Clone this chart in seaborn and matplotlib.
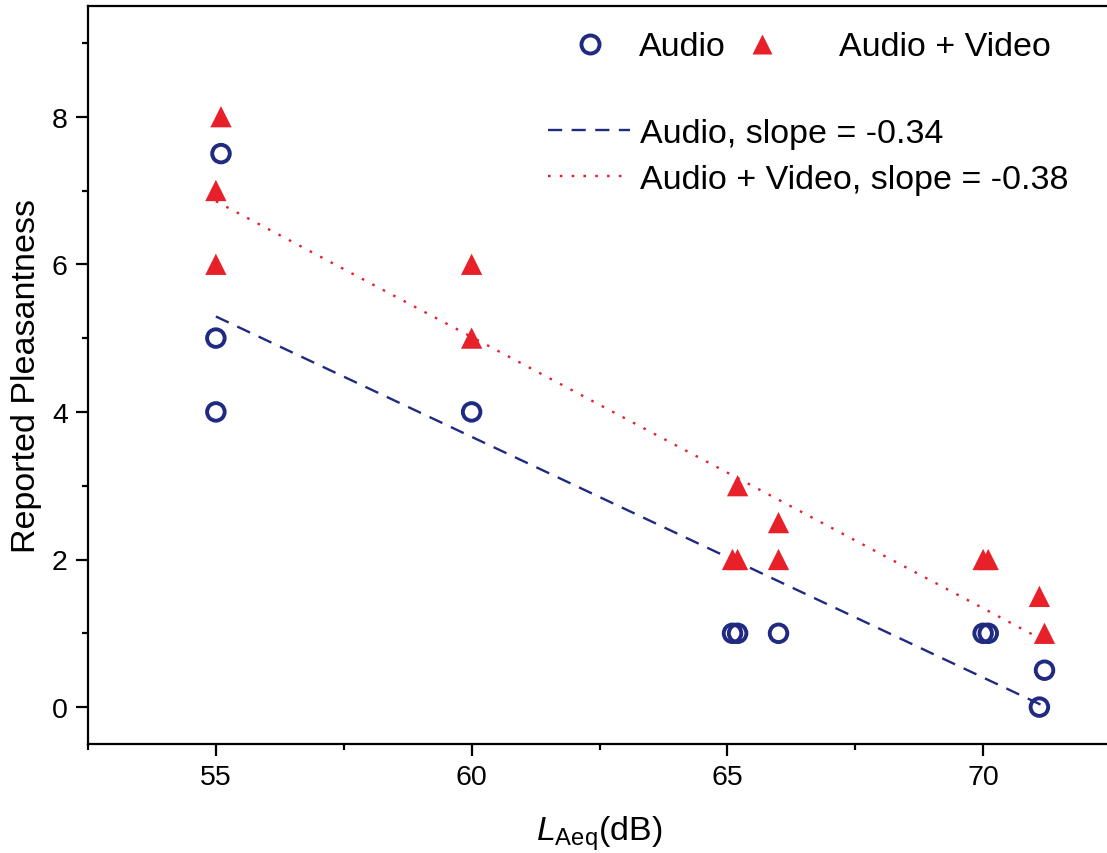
import numpy as np
import pandas as pd
import matplotlib
matplotlib.use("Agg")
import matplotlib.pyplot as plt
from matplotlib.lines import Line2D
from matplotlib.ticker import MultipleLocator
import seaborn as sns

# ---- data ----
audio_x = [55.1, 55.0, 55.0, 60.0, 65.1, 65.2, 66.0, 70.0, 70.1, 71.1, 71.2]
audio_y = [7.5, 5.0, 4.0, 4.0, 1.0, 1.0, 1.0, 1.0, 1.0, 0.0, 0.5]
av_x = [55.1, 55.0, 55.0, 60.0, 60.0, 65.1, 65.2, 65.2, 66.0, 66.0, 70.0, 70.1, 71.1, 71.2]
av_y = [8.0, 7.0, 6.0, 6.0, 5.0, 2.0, 2.0, 3.0, 2.5, 2.0, 2.0, 2.0, 1.5, 1.0]
series_labels = ["Audio", "Audio + Video"]
fit_labels = ["Audio, slope = -0.34", "Audio + Video, slope = -0.38"]
x_ticks = [55, 60, 65, 70]
y_ticks = [0, 2, 4, 6, 8]

navy = "#1f2a80"
red = "#e8202a"

sns.set_style("ticks")
plt.rcParams["font.family"] = ["Liberation Sans", "DejaVu Sans"]
plt.rcParams["mathtext.fontset"] = "custom"
plt.rcParams["mathtext.rm"] = "Liberation Sans"
plt.rcParams["mathtext.it"] = "Liberation Sans:italic"
plt.rcParams["text.color"] = "black"
plt.rcParams["axes.labelcolor"] = "black"

df_a = pd.DataFrame({"x": audio_x, "y": audio_y})
df_v = pd.DataFrame({"x": av_x, "y": av_y})

fig = plt.figure(figsize=(11.07, 8.54), dpi=100)
ax = fig.add_axes([88 / 1107, 109 / 854, 1023 / 1107, 738 / 854])

# regression lines
sns.regplot(data=df_a, x="x", y="y", scatter=False, ci=None, truncate=True, ax=ax,
            line_kws=dict(color=navy, lw=1.7, dashes=(6, 4)))
sns.regplot(data=df_v, x="x", y="y", scatter=False, ci=None, truncate=True, ax=ax,
            line_kws=dict(color=red, lw=1.7, dashes=(1.1, 3.9)))

# points
sns.scatterplot(data=df_a, x="x", y="y", marker="o", s=160, facecolor="none",
                edgecolor=navy, linewidth=2.8, ax=ax, zorder=3)
sns.scatterplot(data=df_v, x="x", y="y", marker="^", s=235, color=red,
                edgecolor="none", linewidth=0, ax=ax, zorder=3)

ax.set_xlim(52.5, 72.5)
ax.set_ylim(-0.5, 9.5)
ax.set_xticks(x_ticks)
ax.set_yticks(y_ticks)
ax.xaxis.set_minor_locator(MultipleLocator(2.5))
ax.yaxis.set_minor_locator(MultipleLocator(1))

for s in ["left", "bottom", "top"]:
    ax.spines[s].set_linewidth(1.6)
    ax.spines[s].set_color("black")
ax.spines["right"].set_visible(False)
ax.tick_params(axis="both", which="major", direction="out", length=8.5, width=1.6,
               labelsize=20.5, pad=6, colors="black")
ax.tick_params(axis="both", which="minor", direction="out", length=4.5, width=1.6,
               colors="black")
ax.tick_params(axis="y", which="both", right=False)
ax.tick_params(axis="x", which="both", top=False)

ax.set_ylabel("Reported Pleasantness", fontsize=24.5, labelpad=7, color="black")
ax.set_xlabel(r"$L_{\mathrm{Aeq}}$(dB)", fontsize=24.5, labelpad=17, color="black")

# legends
fs = 24.5
h_a = Line2D([], [], marker="o", ls="none", ms=13, mfc="none", mec=navy, mew=2.8)
h_v = Line2D([], [], marker="^", ls="none", ms=15, mfc=red, mec="none")
leg1 = ax.legend([h_a], [series_labels[0]], loc="center left",
                 bbox_to_anchor=((573 - 88) / 1023, (745 - 48) / 738),
                 frameon=False, fontsize=fs, handlelength=1.0, handletextpad=0.95,
                 borderpad=0, borderaxespad=0, labelcolor="black")
ax.add_artist(leg1)
leg2 = ax.legend([h_v], [series_labels[1]], loc="center left",
                 bbox_to_anchor=((745 - 88) / 1023, (745 - 48) / 738),
                 frameon=False, fontsize=fs, handlelength=1.0, handletextpad=1.75,
                 borderpad=0, borderaxespad=0, labelcolor="black")
ax.add_artist(leg2)
h_l1 = Line2D([], [], color=navy, lw=1.7, dashes=(6, 4))
h_l2 = Line2D([], [], color=red, lw=1.7, dashes=(1.1, 3.9))
leg3 = ax.legend([h_l1, h_l2], fit_labels, loc="upper left",
                 bbox_to_anchor=((548 - 88) / 1023, (745 - 119) / 738),
                 frameon=False, fontsize=fs, handlelength=2.4, handletextpad=0.3,
                 labelspacing=0.45, borderpad=0, borderaxespad=0, labelcolor="black")

fig.savefig("out.png", dpi=100)
